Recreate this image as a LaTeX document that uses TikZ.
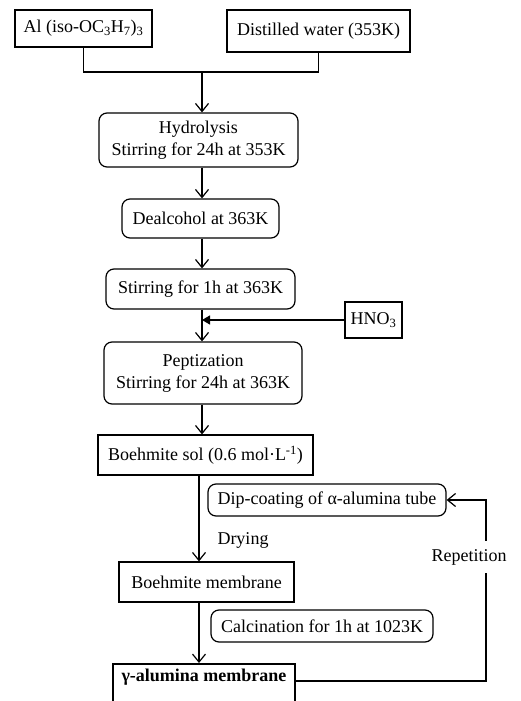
\documentclass[tikz,border=0pt]{standalone}
\usepackage{fontspec}
\setmainfont{Liberation Serif}
\usetikzlibrary{arrows.meta}

\begin{document}
\begin{tikzpicture}[x=1pt,y=-1pt,font=\fontsize{18}{22}\selectfont]
    \tikzstyle{box}=[draw, line width=1.2pt, inner sep=0pt, align=center]
    \tikzstyle{rbox}=[box, rounded corners=8pt]
    \tikzstyle{gbox}=[box, line width=2pt, text height=13pt, text depth=30pt, inner ysep=4pt]
    \tikzstyle{line}=[line width=1.2pt]
    \tikzstyle{arr}=[line, -{Straight Barb[length=8pt,width=13pt,line width=1.2pt]}]
    \tikzstyle{tri}=[line, -{Triangle[length=8pt,width=9pt]}]
    \useasboundingbox (0,0) rectangle (521,701);
    \clip (0,0) rectangle (521,701);
    \coordinate (join) at (202,72);
    \coordinate (stem) at (199,0);
    \coordinate (loop) at (486,0);
    \node[box, minimum width=137, minimum height=37] (al) at (83.5,28.5) {Al (iso-OC\textsubscript{3}H\textsubscript{7})\textsubscript{3}};
    \node[box, minimum width=183, minimum height=42] (water) at (318.5,31) {Distilled water (353K)};
    \node[rbox, minimum width=199, minimum height=54] (hydro) at (198.5,140) {Hydrolysis\\Stirring for 24h at 353K};
    \node[rbox, minimum width=157, minimum height=39] (dealc) at (200.5,218.5) {Dealcohol at 363K};
    \node[rbox, minimum width=189, minimum height=40] (stir) at (200.5,289) {Stirring for 1h at 363K};
    \node[box, minimum width=57, minimum height=36] (hno) at (373.5,320) {HNO\textsubscript{3}};
    \node[rbox, minimum width=198, minimum height=62] (pept) at (203,373) {Peptization\\Stirring for 24h at 363K};
    \node[box, minimum width=215, minimum height=40] (sol) at (205.5,455) {Boehmite sol (0.6 mol·L\textsuperscript{-1})};
    \node[rbox, minimum width=238, minimum height=32] (dip) at (327,500) {Dip-coating of α-alumina tube};
    \node (dry) at (243,540) {Drying};
    \node[inner ysep=8pt] (rep) at (469,557) {Repetition};
    \node[box, minimum width=175, minimum height=40] (memb) at (206.5,582) {Boehmite membrane};
    \node[rbox, minimum width=222, minimum height=32] (calc) at (322,626) {Calcination for 1h at 1023K};
    \node[gbox, minimum width=182, anchor=north] (gamma) at (204,663) {\textbf{γ-alumina membrane}};
    \draw[line] (al.south) |- (join) -| (water.south);
    \draw[arr] (join) -- (hydro.north -| join);
    \draw[arr] (hydro.south -| join) -- (dealc.north -| join);
    \draw[arr] (dealc.south -| join) -- (stir.north -| join);
    \draw[arr] (stir.south -| join) -- (pept.north -| join);
    \draw[tri] (hno.west) -- (hno.west -| join);
    \draw[arr] (pept.south -| join) -- (sol.north -| join);
    \draw[arr] (sol.south -| stem) -- (memb.north -| stem);
    \draw[arr] (memb.south -| stem) -- (gamma.north -| stem);
    \draw[line] (gamma.base east) -| (rep.south -| loop);
    \draw[arr] (rep.north -| loop) |- (dip.east);
\end{tikzpicture}
\end{document}
